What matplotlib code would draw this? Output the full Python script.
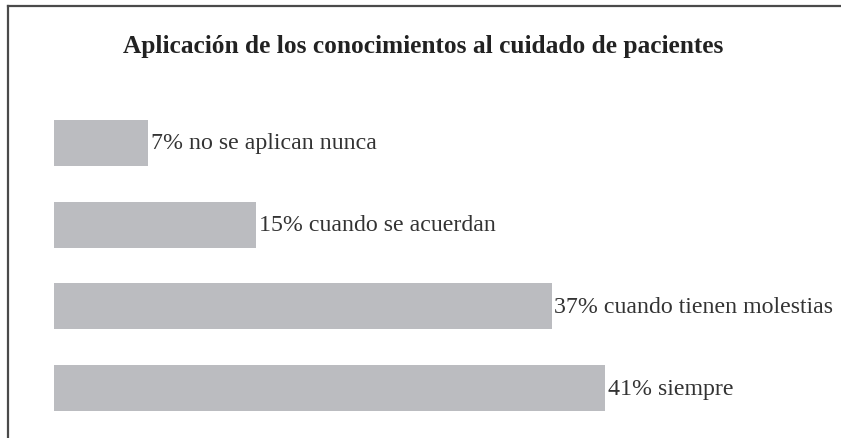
import matplotlib
matplotlib.use("Agg")
import matplotlib.pyplot as plt
from matplotlib.lines import Line2D

# datos
valores = [7, 15, 37, 41]
etiquetas = ["no se aplican nunca", "cuando se acuerdan",
             "cuando tienen molestias", "siempre"]
titulo = "Aplicación de los conocimientos al cuidado de pacientes"

W, H = 841, 439
fig = plt.figure(figsize=(W / 100, H / 100), dpi=100)
plt.rcParams['font.family'] = ['Liberation Serif', 'DejaVu Serif']

# marco: solo arriba e izquierda
fig.add_artist(Line2D([8 / W, 1], [1 - 7 / H, 1 - 7 / H], color='#4a4a4a', lw=1.6))
fig.add_artist(Line2D([8 / W, 8 / W], [0, 1 - 7 / H], color='#4a4a4a', lw=1.6))

fig.text(423 / W, 1 - 46 / H, titulo, ha='center', va='center',
         fontsize=18.3, fontweight='bold', color='#222222')

ax = fig.add_axes([54 / W, 8 / H, (W - 54) / W, 330 / H])
pos = list(range(len(valores)))
ax.barh(pos, valores, height=0.56, color='#bbbcc0')
for p, v, e in zip(pos, valores, etiquetas):
    ax.annotate(f"{v}% {e}", (v, p), xytext=(2, 0), textcoords='offset points',
                ha='left', va='center', fontsize=17.2, color='#333333')

ax.set_xlim(0, (W - 54) / 13.45)
ax.set_ylim(3.514, -0.526)
ax.axis('off')

fig.savefig("out.png", dpi=100)
